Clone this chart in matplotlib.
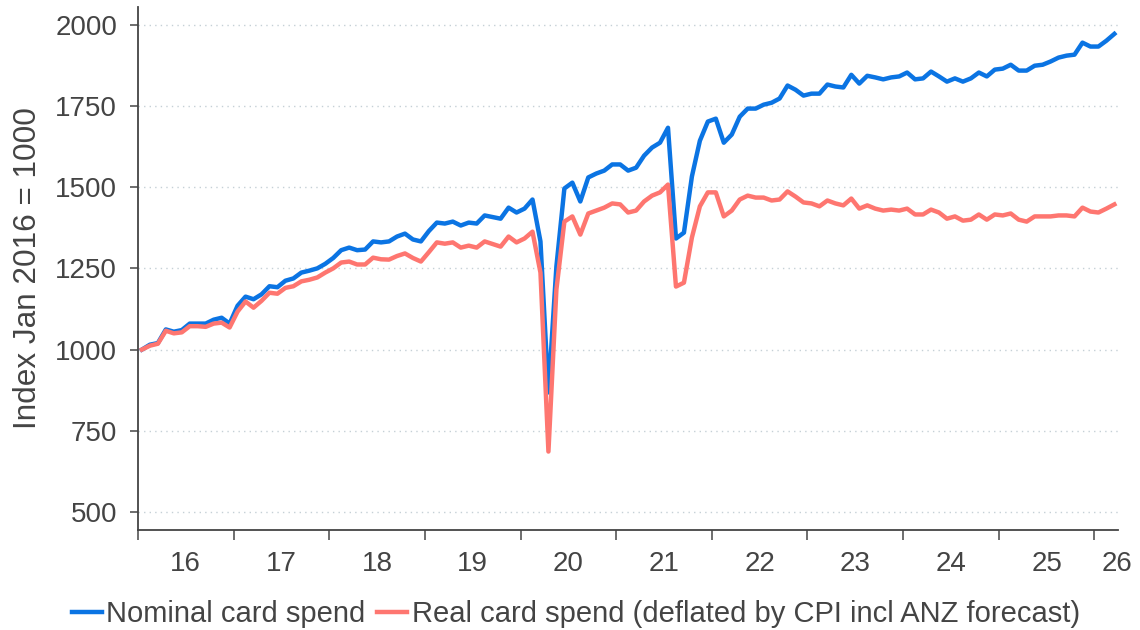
import matplotlib as mpl
mpl.use('Agg')

import numpy as np
import matplotlib.pyplot as plt

# monthly index values, Jan 2016 .. Mar 2026 (Jan 2016 = 1000)
nominal = [
    1000, 1015, 1020, 1062, 1055, 1060, 1080, 1080, 1080, 1092, 1098, 1080,
    1135, 1163, 1155, 1170, 1195, 1192, 1212, 1219, 1237, 1243, 1250, 1264,
    1282, 1306, 1314, 1306, 1308, 1333, 1330, 1333, 1348, 1357, 1339, 1333,
    1365, 1391, 1388, 1394, 1382, 1391, 1388, 1413, 1408, 1403, 1437, 1422,
    1434, 1462, 1333, 868, 1256, 1496, 1514, 1456, 1530, 1542, 1551, 1570,
    1570, 1551, 1560, 1597, 1622, 1637, 1683, 1342, 1360, 1533, 1643, 1702,
    1711, 1637, 1662, 1717, 1742, 1742, 1754, 1760, 1773, 1813, 1800, 1782,
    1788, 1788, 1816, 1810, 1807, 1846, 1819, 1843, 1838, 1832, 1838, 1841,
    1853, 1832, 1835, 1856, 1841, 1825, 1835, 1825, 1835, 1853, 1841, 1862,
    1865, 1877, 1859, 1859, 1874, 1877, 1887, 1899, 1905, 1908, 1945, 1933,
    1933, 1951, 1972,
]
real = [
    1000, 1012, 1018, 1058, 1050, 1053, 1072, 1072, 1070, 1080, 1083, 1068,
    1117, 1148, 1129, 1150, 1175, 1172, 1190, 1195, 1210, 1215, 1222, 1237,
    1250, 1268, 1271, 1262, 1262, 1283, 1278, 1277, 1288, 1296, 1282, 1271,
    1300, 1330, 1326, 1330, 1314, 1320, 1314, 1333, 1325, 1317, 1348, 1330,
    1342, 1363, 1237, 686, 1185, 1394, 1410, 1354, 1419, 1428, 1437, 1450,
    1447, 1422, 1428, 1456, 1474, 1484, 1508, 1194, 1206, 1345, 1441, 1484,
    1484, 1410, 1428, 1462, 1474, 1468, 1468, 1459, 1462, 1487, 1471, 1453,
    1450, 1441, 1459, 1450, 1444, 1465, 1434, 1444, 1434, 1428, 1431, 1428,
    1434, 1416, 1416, 1431, 1422, 1403, 1410, 1397, 1400, 1416, 1400, 1416,
    1413, 1419, 1400, 1394, 1410, 1410, 1410, 1413, 1413, 1410, 1437, 1425,
    1422, 1434, 1447,
]
year_labels = ['16', '17', '18', '19', '20', '21', '22', '23', '24', '25', '26']
yticks = [500, 750, 1000, 1250, 1500, 1750, 2000]

txtcol = '#444444'
blue = '#0b74e3'
red = '#fe7670'

plt.rcParams['font.family'] = ['Liberation Sans', 'DejaVu Sans']

# months plotted at mid-month as decimal years
x = 2016 + (np.arange(len(nominal)) + 0.5) / 12.0

fig = plt.figure(figsize=(11.4, 6.3), dpi=100)
ax = fig.add_axes([0.121, 0.159, 0.860, 0.830])

ax.plot(x, nominal, color=blue, lw=3.2, label='Nominal card spend', zorder=3)
ax.plot(x, real, color=red, lw=3.2,
        label='Real card spend (deflated by CPI incl ANZ forecast)', zorder=3)

ax.set_xlim(2016.0, 2026.25)
ax.set_ylim(445, 2055)

ax.set_yticks(yticks)
ax.grid(axis='y', color='#c5d0d6', linestyle=(0, (1, 3)), linewidth=1.0)
ax.set_axisbelow(True)

# year boundaries as major ticks, labels centred in each year
ax.set_xticks(np.arange(2016, 2027))
ax.set_xticklabels([])
lab_pos = [2016.5 + i for i in range(10)] + [2026.24]
ax.set_xticks(lab_pos, minor=True)
ax.set_xticklabels(year_labels, minor=True)
ax.tick_params(axis='x', which='minor', length=0, pad=15, labelsize=20, labelcolor=txtcol)
ax.tick_params(axis='x', which='major', length=7, width=1.2, color='#555555', direction='out')
ax.tick_params(axis='y', length=6, width=1.2, color='#555555', pad=9, labelsize=20, labelcolor=txtcol)

for s in ['top', 'right']:
    ax.spines[s].set_visible(False)
for s in ['left', 'bottom']:
    ax.spines[s].set_color('#444444')
    ax.spines[s].set_linewidth(1.3)

ax.set_ylabel('Index Jan 2016 = 1000', fontsize=22.7, color=txtcol, labelpad=9)

fig.legend(loc='center', bbox_to_anchor=(0.505, 0.025), ncol=2, frameon=False,
           fontsize=21, handlelength=1.03, handletextpad=0.15, columnspacing=0.4,
           labelcolor=txtcol)

plt.savefig('out.png', dpi=100)
